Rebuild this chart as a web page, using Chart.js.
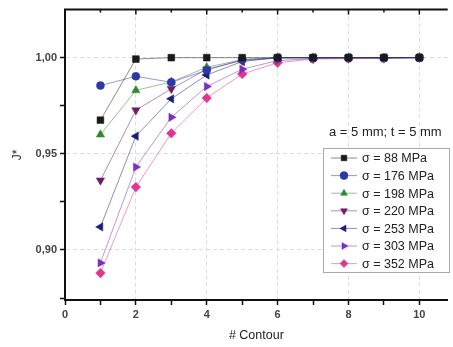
<!DOCTYPE html>
<html>
<head>
<meta charset="utf-8">
<script src="https://cdn.jsdelivr.net/npm/chart.js@4/dist/chart.umd.min.js"></script>
<style>
  html, body { margin: 0; padding: 0; background: #fff; }
  #wrap { width: 453px; height: 347px; }
</style>
</head>
<body>
<div id="wrap"><canvas id="jchart" width="453" height="347"></canvas></div>
<script>
// contour number on x axis
var contours = [1, 2, 3, 4, 5, 6, 7, 8, 9, 10];

// J* values, one array per stress level
var s88  = [0.9675, 0.9993, 1.0000, 1.0000, 1.0000, 1.0000, 1.0000, 1.0000, 1.0000, 1.0000];
var s176 = [0.9855, 0.9903, 0.9872, 0.9935, 0.9990, 1.0000, 1.0000, 1.0000, 1.0000, 1.0000];
var s198 = [0.9600, 0.9830, 0.9874, 0.9950, 0.9990, 1.0000, 1.0000, 1.0000, 1.0000, 1.0000];
var s220 = [0.9362, 0.9727, 0.9838, 0.9940, 0.9985, 0.9998, 1.0000, 1.0000, 1.0000, 1.0000];
var s253 = [0.9120, 0.9592, 0.9786, 0.9910, 0.9980, 1.0000, 1.0000, 1.0000, 1.0000, 1.0000];
var s303 = [0.8933, 0.9431, 0.9690, 0.9850, 0.9940, 0.9985, 0.9995, 0.9998, 0.9998, 1.0000];
var s352 = [0.8880, 0.9327, 0.9607, 0.9790, 0.9915, 0.9974, 0.9993, 0.9995, 0.9996, 1.0002];

var seriesNames = ['σ = 88 MPa', 'σ = 176 MPa', 'σ = 198 MPa', 'σ = 220 MPa', 'σ = 253 MPa', 'σ = 303 MPa', 'σ = 352 MPa'];
var seriesValues = [s88, s176, s198, s220, s253, s303, s352];
var seriesColors = ['#1a1a1a', '#2b3aa8', '#2f8a2f', '#6e1d63', '#1c1f7a', '#7a2fc0', '#e23590'];
var seriesShapes = ['rect', 'circle', 'triangle', 'triangle', 'triangle', 'triangle', 'rectRot'];
var seriesRotation = [0, 0, 0, 180, -90, 90, 0];

var xTicks = [0, 2, 4, 6, 8, 10];
var yTicks = [0.90, 0.95, 1.00];

var FONT = '"Liberation Sans", Arial, sans-serif';

function fade(hex, a) {
    var r = parseInt(hex.substr(1, 2), 16), g = parseInt(hex.substr(3, 2), 16), b = parseInt(hex.substr(5, 2), 16);
    return 'rgba(' + r + ',' + g + ',' + b + ',' + a + ')';
}

function isMajor(list, v) {
    return list.some(function(t) { return Math.abs(t - v) < 1e-6; });
}

var datasets = seriesValues.map(function(vals, i) {
    return {
        label: seriesNames[i],
        data: contours.map(function(c, j) { return {x: c, y: vals[j]}; }),
        borderColor: fade(seriesColors[i], 0.5),
        borderWidth: 1,
        backgroundColor: seriesColors[i],
        pointBackgroundColor: seriesColors[i],
        pointBorderColor: seriesColors[i],
        pointBorderWidth: 0.5,
        pointStyle: seriesShapes[i],
        pointRotation: seriesRotation[i],
        pointRadius: seriesShapes[i] == 'circle' ? 4 : 4.8,
        tension: 0
    };
});

// draws the top frame with inward ticks, the note and the boxed legend
var extras = {
    id: 'extras',
    afterDraw: function(chart) {
        var ctx = chart.ctx;
        var area = chart.chartArea;
        var xs = chart.scales.x;
        ctx.save();
        ctx.strokeStyle = '#111';
        ctx.lineWidth = 2;
        ctx.beginPath();
        ctx.moveTo(area.left - 1, area.top);
        ctx.lineTo(area.right, area.top);
        ctx.stroke();
        ctx.lineWidth = 1.5;
        for (var v = 1; v <= 10; v++) {
            var px = xs.getPixelForValue(v);
            ctx.beginPath();
            ctx.moveTo(px, area.top);
            ctx.lineTo(px, area.top + (v % 2 == 0 ? 5 : 3));
            ctx.stroke();
        }

        ctx.fillStyle = '#222';
        ctx.font = '13px ' + FONT;
        ctx.textAlign = 'right';
        ctx.textBaseline = 'alphabetic';
        ctx.fillText('a = 5 mm; t = 5 mm', area.right - 6, 136);

        // legend box
        var bx = 323, by = 148, bw = 126, bh = 124, row = 17.6;
        ctx.fillStyle = '#fff';
        ctx.fillRect(bx, by, bw, bh);
        ctx.strokeStyle = '#aaa';
        ctx.lineWidth = 1;
        ctx.strokeRect(bx + 0.5, by + 0.5, bw, bh);
        chart.data.datasets.forEach(function(ds, i) {
            var cy = by + 10 + i * row;
            ctx.strokeStyle = ds.borderColor;
            ctx.lineWidth = 1;
            ctx.beginPath();
            ctx.moveTo(bx + 8, cy);
            ctx.lineTo(bx + 34, cy);
            ctx.stroke();
            ctx.fillStyle = ds.pointBackgroundColor;
            ctx.strokeStyle = ds.pointBorderColor;
            ctx.lineWidth = 0.5;
            Chart.helpers.drawPoint(ctx, {pointStyle: ds.pointStyle, rotation: ds.pointRotation, radius: 4, borderWidth: 0.5}, bx + 21, cy);
            ctx.fillStyle = '#222';
            ctx.font = '12.5px ' + FONT;
            ctx.textAlign = 'left';
            ctx.textBaseline = 'middle';
            ctx.fillText(ds.label, bx + 39, cy + 1);
        });
        ctx.restore();
    }
};

new Chart(document.getElementById('jchart'), {
    type: 'line',
    data: {datasets: datasets},
    options: {
        responsive: false,
        animation: false,
        layout: {padding: {top: 9, right: 0, bottom: 0, left: 0}},
        plugins: {legend: {display: false}, tooltip: {enabled: false}},
        scales: {
            x: {
                type: 'linear',
                min: 0,
                max: 10.8,
                afterFit: function(s) { s.height = 47; },
                ticks: {
                    stepSize: 1,
                    includeBounds: false,
                    autoSkip: false,
                    maxRotation: 0,
                    color: '#444',
                    padding: 3,
                    font: {family: FONT, size: 11, weight: 'bold'},
                    callback: function(v) { return isMajor(xTicks, v) ? String(v) : ''; }
                },
                grid: {
                    color: function(c) { return c.tick && isMajor(xTicks, c.tick.value) && c.tick.value > 0 ? '#dcdcdc' : 'rgba(0,0,0,0)'; },
                    tickColor: '#111',
                    tickLength: 5,
                    tickWidth: 1.5
                },
                border: {color: '#111', width: 2, dash: [4, 3]},
                title: {
                    display: true,
                    text: '# Contour',
                    color: '#222',
                    padding: {top: 4},
                    font: {family: FONT, size: 12.5}
                }
            },
            y: {
                min: 0.874,
                max: 1.025,
                afterFit: function(s) { s.width = 65; },
                ticks: {
                    stepSize: 0.025,
                    includeBounds: false,
                    autoSkip: false,
                    color: '#444',
                    padding: 3,
                    font: {family: FONT, size: 11, weight: 'bold'},
                    callback: function(v) { return isMajor(yTicks, v) ? v.toFixed(2).replace('.', ',') : ''; }
                },
                grid: {
                    color: function(c) { return c.tick && isMajor(yTicks, c.tick.value) ? '#dcdcdc' : 'rgba(0,0,0,0)'; },
                    tickColor: '#111',
                    tickLength: 5,
                    tickWidth: 1.5
                },
                border: {color: '#111', width: 2, dash: [4, 3]},
                title: {
                    display: true,
                    text: 'J*',
                    color: '#222',
                    padding: {top: 10, bottom: 0},
                    font: {family: FONT, size: 12}
                }
            }
        }
    },
    plugins: [extras]
});
</script>
</body>
</html>
